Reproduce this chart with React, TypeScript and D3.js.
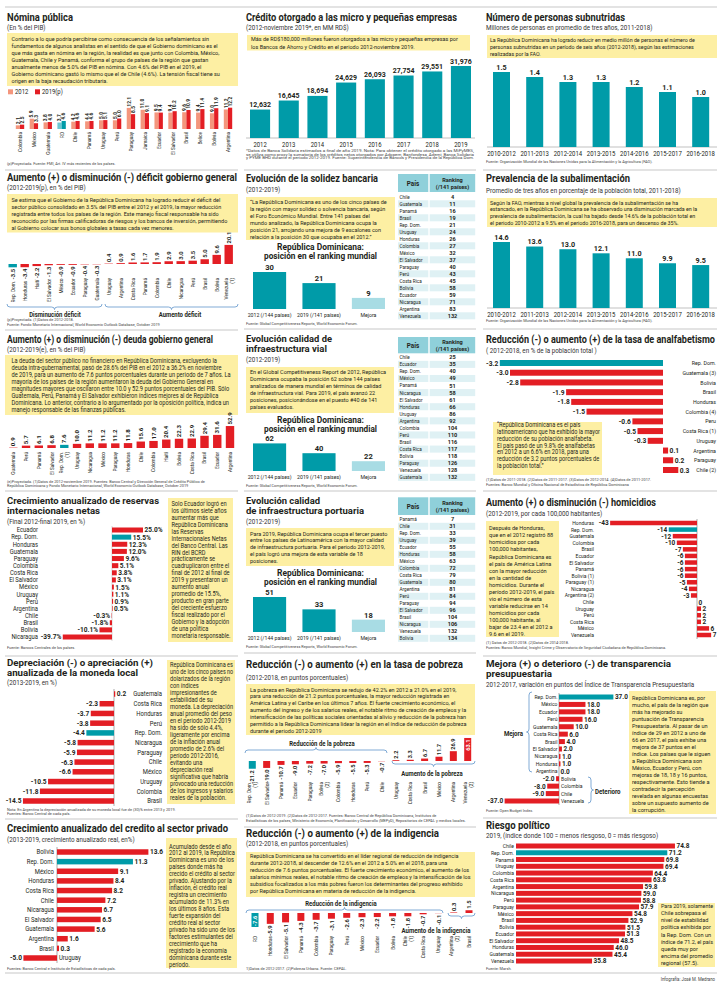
import React from "react";
import * as d3 from "d3";

// ---------------- data ----------------
const nominaCountries = ["Colombia","México","Guatemala","RD","Chile","Panamá","Uruguay","Perú","Paraguay","Jamaica","Ecuador","El Salvador","Brasil","Belice","Bolivia","Argentina"];
const nomina2012 = [2.1,5.9,3.8,3.7,4.2,4.4,5.0,5.0,12.1,11.0,9.5,9.4,9.6,9.4,9.0,11.2];
const nomina2019 = [2.5,3.3,4.0,4.6,4.6,4.6,5.1,6.0,8.5,9.1,9.4,10.2,10.9,11.4,11.9,12.2];

const deficitCountries = ["Rep. Dom.","Honduras","Haití","El Salvador","México","Ecuador","Paraguay","Guatemala","Uruguay","Argentina","Costa Rica","Panamá","Colombia","Chile","Nicaragua","Perú","Brasil","Bolivia","Venezuela\n(1)"];
const deficitValues = [-3.5,-3.4,-2.2,-1.3,-0.9,-0.9,-0.4,-0.3,0.4,0.9,1.6,1.7,1.9,2.9,3.0,3.5,5.0,9.6,20.1];

const deudaCountries = ["Guatemala","Perú","Panamá","El Salvador","Rep. Dom.\n(1)","Uruguay","Nicaragua","México","Paraguay","Honduras","Chile","Colombia","Haití","Bolivia","Costa Rica","Brasil","Ecuador","Argentina"];
const deudaValues = [0.9,5.7,6.1,6.8,7.6,10.0,11.2,11.2,11.2,11.8,15.6,17.0,20.4,22.3,22.9,29.4,31.6,52.9];

const reservasCountries = ["Ecuador","Rep. Dom.","Honduras","Guatemala","Paraguay","Colombia","Costa Rica","El Salvador","México","Uruguay","Perú","Argentina","Chile","Brasil","Bolivia","Nicaragua"];
const reservasValues = [25.0,15.5,12.3,12.0,9.6,5.1,3.8,3.1,1.5,1.1,0.9,0.5,-0.3,-1.8,-10.1,-39.7];

const monedaCountries = ["Guatemala","Costa Rica","Honduras","Perú","Rep. Dom.","Nicaragua","Paraguay","Chile","México","Uruguay","Colombia","Brasil"];
const monedaValues = [0.2,-2.3,-3.7,-3.8,-4.4,-5.8,-5.9,-6.3,-6.6,-10.5,-11.8,-14.5];

const creditoCountries = ["Bolivia","Rep. Dom.","México","Honduras","Costa Rica","Chile","Nicaragua","El Salvador","Guatemala","Argentina","Brasil","Uruguay"];
const creditoValues = [13.6,11.3,9.1,8.4,8.2,7.2,6.7,6.5,5.6,1.6,0.3,-5.0];

const microYears = ["2012","2013","2014","2015","2016","2017","2018","2019"];
const microValues = [12632,16645,18694,24629,26093,27754,29551,31976];

const rankLabels = ["2012 (/144 países)","2019 (/141 países)","Mejora"];
const solidezRank = [30,21,9];
const vialRank = [62,40,22];
const portRank = [51,33,18];

const solidezPaises = ["Chile","Guatemala","Panamá","Brasil","Rep. Dom.","Uruguay","Honduras","Colombia","México","El Salvador","Paraguay","Perú","Costa Rica","Bolivia","Ecuador","Nicaragua","Argentina","Venezuela"];
const solidezRanking = [4,11,16,19,21,24,26,27,32,37,40,43,45,58,59,71,83,132];
const vialPaises = ["Chile","Ecuador","Rep. Dom.","México","Panamá","Nicaragua","El Salvador","Honduras","Uruguay","Argentina","Colombia","Perú","Brasil","Costa Rica","Bolivia","Paraguay","Venezuela","Guatemala"];
const vialRanking = [25,35,40,49,51,58,61,66,86,92,104,110,116,117,118,126,128,132];
const portPaises = ["Panamá","Chile","Rep. Dom.","Uruguay","Ecuador","Honduras","México","Colombia","Costa Rica","Guatemala","Argentina","Perú","Paraguay","El Salvador","Brasil","Nicaragua","Venezuela","Bolivia"];
const portRanking = [7,31,33,39,55,58,63,72,79,80,81,84,94,96,104,106,132,134];

const pobrezaCountries = ["Rep. Dom.\n(1)","El Salvador","Panamá","Ecuador","Paraguay","Bolivia\n(2)","Colombia","Honduras","Perú","Chile","Uruguay","Costa Rica","Brasil","México","Argentina","Venezuela\n(2)"];
const pobrezaValues = [-21.2,-19.0,-10.7,-9.0,-7.2,-7.0,-5.9,-5.5,-5.3,-0.7,2.2,3.3,6.7,11.7,26.9,63.1];

const indigCountries = ["RD","Honduras","El Salvador","Panamá","Colombia","Paraguay","Perú","México","Ecuador","Bolivia","Chile\n(1)","Costa Rica","Uruguay","Argentina\n(2)","Brasil"];
const indigValues = [-7.6,-5.9,-5.1,-4.3,-3.7,-3.1,-2.6,-2.3,-2.2,-1.8,-1.8,-0.7,-0.1,0.3,1.5];

const periods = ["2010-2012","2011-2013","2012-2014","2013-2015","2014-2016","2015-2017","2016-2018"];
const subnutValues = [1.5,1.4,1.3,1.3,1.2,1.1,1.0];
const prevalValues = [14.6,13.6,13.0,12.1,11.0,9.9,9.5];

const analfCountries = ["Rep. Dom.","Guatemala (3)","Bolivia","Brasil","Honduras","Colombia (4)","Peru","Costa Rica (1)","Uruguay","Argentina","Paraguay","Chile (2)"];
const analfValues = [-3.2,-3.0,-2.8,-1.9,-1.8,-1.5,-0.6,-0.5,-0.3,0.1,0.2,0.3];

const homCountries = ["Honduras","Rep. Dom.","Guatemala","Colombia","Brasil","Ecuador","El Salvador","Panamá","Bolivia (1)","Paraguay (1)","Nicaragua","Argentina (2)","Chile","Uruguay","Perú","Costa Rica","México","Venezuela"];
const homValues = [-43,-14,-12,-10,-7,-6,-6,-6,-6,-5,-4,-3,0,2,2,2,6,7];

const transCountries = ["Rep. Dom.","México","Ecuador","Perú","Guatemala","Costa Rica","Brasil","El Salvador","Nicaragua","Honduras","Argentina","Bolivia","Colombia","Chile","Venezuela"];
const transValues = [37.0,18.0,18.0,16.0,10.0,6.0,4.0,2.0,1.0,1.0,0.0,-2.0,-8.0,-9.0,-37.0];

const riesgoCountries = ["Chile","Rep. Dom.","Panamá","Uruguay","Colombia","Costa Rica","Argentina","Nicaragua","Perú","Paraguay","México","Brasil","Bolivia","Ecuador","El Salvador","Honduras","Guatemala","Venezuela"];
const riesgoValues = [74.8,71.2,69.8,69.4,64.4,63.8,59.8,59.0,58.8,57.9,54.8,52.9,51.5,51.3,48.5,46.0,45.4,35.8];

// ---------------- texts ----------------
const nominaText = ["Contrario a lo que podría percibirse como consecuencia de los señalamientos sin","fundamentos de algunos analistas en el sentido de que el Gobierno dominicano es el","que más gasta en nómina en la región, la realidad es que junto con Colombia, México,","Guatemala, Chile y Panamá, conforma el grupo de países de la región que gastan","anualmente menos de 5.0% del PIB en nómina. Con 4.6% del PIB en el 2019, el","Gobierno dominicano gastó lo mismo que el de Chile (4.6%). La tensión fiscal tiene su","origen en la baja recaudación tributaria."];
const deficitText = ["Se estima que el Gobierno de la República Dominicana ha logrado reducir el déficit del","sector público consolidado en 3.5% del PIB entre el 2012 y el 2019, la mayor reducción","registrada entre todos los países de la región. Este manejo fiscal responsable ha sido","reconocido por las firmas calificadoras de riesgos y los bancos de inversión, permitiendo","al Gobierno colocar sus bonos globales a tasas cada vez menores."];
const deudaText = ["La deuda del sector público no financiero en República Dominicana, excluyendo la","deuda intra-gubernamental, pasó de 28.6% del PIB en el 2012 a 36.2% en noviembre","de 2019, para un aumento de 7.6 puntos porcentuales durante un periodo de 7 años. La","mayoría de los países de la región aumentaron la deuda del Gobierno General en","magnitudes mayores que oscilaron entre 10.0 y 52.9 puntos porcentuales del PIB. Sólo","Guatemala, Perú, Panamá y El Salvador exhibieron índices mejores al de República","Dominicana. Lo anterior, contrario a lo argumentado por la oposición política, indica un","manejo responsable de las finanzas públicas."];
const reservasText = ["Solo Ecuador logró en","los últimos siete años","aumentar más que","República Dominicana","las Reservas","Internacionales Netas","del Banco Central. Las","RIN del BCRD","prácticamente se","cuadruplicaron entre el","final de 2012 al final de","2019 y presentaron un","aumento anual","promedio de 15.5%,","producto en gran parte","del creciente esfuerzo","fiscal realizado por el","Gobierno y la adopción","de una política","monetaria responsable."];
const monedaText = ["República Dominicana es","uno de los cinco países no","dolarizados de la región","con índices","impresionantes de","estabilidad de su","moneda. La depreciación","anual promedio del peso","en el periodo 2012-2019","ha sido de sólo 4.4%,","ligeramente por encima","de la inflación anual","promedio de 2.6% del","período 2012-2016,","evitando una","depreciación real","significativa que habría","provocado una reducción","de los ingresos y salarios","reales de la población."];
const creditoText = ["Acumulado desde el año","2012 al 2019, la República","Dominicana es uno de los","países donde más ha","crecido el crédito al sector","privado. Ajustando por la","inflación, el crédito real","registra un crecimiento","acumulado de 11.3% en","los últimos 8 años. Esta","fuerte expansión del","crédito real al sector","privado ha sido uno de los","factores estimulantes del","crecimiento que ha","registrado la economía","dominicana durante este","período."];
const microText = ["Más de RD$180,000 millones fueron otorgados a las micro y pequeñas empresas por","los Bancos de Ahorro y Crédito en el periodo 2012-noviembre 2019."];
const solidezText = ["“La República Dominicana es uno de los cinco países de","la región con mayor solidez o solvencia bancaria, según","el Foro Económico Mundial.  Entre 141 países del","mundo analizado, la República Dominicana ocupa la","posición 21, arrojando una mejora de 9 escalones con","relación a la posición 30 que ocupaba en el 2012.”"];
const vialText = ["En el Global Competitiveness Report de 2012, República","Dominicana ocupaba la posición 62 sobre 144 países","analizados de manera mundial en términos de calidad","de infraestructura vial. Para 2019, el país avanzó 22","posiciones, posicionándose en el puesto #40 de 141","países evaluados."];
const portText = ["Para 2019, República Dominicana ocupa el tercer puesto","entre los países de Latinoamérica con la mayor calidad","de infraestructura portuaria. Para el periodo 2012-2019,","el país logró una mejora de esta variable de 18","posiciones."];
const pobrezaText = ["La pobreza en República Dominicana se redujo de 42.2% en 2012 a 21.0% en el 2019,","para una reducción de 21.2 puntos porcentuales, la mayor reducción registrada en","América Latina y el Caribe en los últimos 7 años. El fuerte crecimiento económico, el","aumento del ingreso y de los salarios reales, el notable ritmo de creación de empleos y la","intensificación de las políticas sociales orientadas al alivio y reducción de la pobreza han","permitido a la República Dominicana lidear la región en el índice de reducción de pobreza","durante el periodo 2012-2019"];
const indigText = ["República Dominicana se ha convertido en el líder regional de reducción de indigencia","durante 2012-2018, al descender de 12.6% en el 2012 a 5.0% en el 2018, para una","reducción de 7.6 puntos porcentuales. El fuerte crecimiento económico, el aumento de los","salarios mínimos reales, el notable ritmo de creación de empleos y la intensificación de los","subsidios focalizados a los más pobres fueron los determinantes del progreso exhibido","por  República Dominicana en materia de reducción de la indigencia."];
const subnutText = ["La República Dominicana ha logrado reducir en medio millón de personas el número de","personas subnutridas en un período de seis años (2012-2018), según las estimaciones","realizadas por la FAO."];
const prevalText = ["Según la FAO,  mientras a nivel global la prevalencia de la subalimentación se ha","estancado, en la República Dominicana se ha observado una disminución marcada en la","prevalencia de subalimentación, la cual ha bajado  desde 14.6% de la población total en","el periodo 2010-2012 a 9.5% en el periodo 2016-2018, para un descenso de 35%."];
const analfText = ["“República Dominicana es el país","latinoamericano que ha exhibido la mayor","reducción de su población analfabeta.","El país pasó de un 9.8% de analfabetas","en 2012 a un 6.6% en 2018, para una","reducción de 3.2 puntos porcentuales de","la población total.”"];
const homText = ["Después de Honduras,","que en el 2012 registró 88","homicidios por cada","100,000 habitantes,","República Dominicana es","el país de América Latina","con la mayor reducción","en la cantidad de","homicidios. Durante el","período 2012-2019, el país","vio el número de esta","variable reducirse en 14","homicidios por cada","100,000 habitante, al","bajar de 23.4 en el 2012 a","9.6 en el 2019."];
const transText = ["República Dominicana es, por","mucho, el país de la región que","más ha mejorado su","puntuación de Transparencia","Presupuestaria. Al pasar de un","índice de 29 en 2012 a uno de","66 en 2017, el país exhibe una","mejora de 37 puntos en el","índice. Los países que le siguen","a República Dominicana son","México, Ecuador y Perú, con","mejoras de 18, 18 y 16 puntos,","respectivamente.  Esto tiende a","contradecir la percepción","revelada en algunas encuestas","sobre un supuesto aumento de","la corrupción."];
const riesgoText = ["Para 2019, solamente","Chile sobrepasa el","nivel de estabilidad","política exhibida por","la Rep. Dom. Con un","índice de 71.2, el país","queda muy por","encima del promedio","regional (57.5)."];

// ---------------- style ----------------
const INK = "#231f20";
const RED = "#e31e24";
const SALMON = "#f4967d";
const TEAL = "#009ba8";
const TEAL_L = "#6ec8d2";
const TEAL_M = "#a8dce4";
const YEL = "#fdefa3";
const GRID = "#b9b9b9";
const BRACE = "#4a86c4";
const HEAD = "#8fd0da";
const ALT = "#dff1f4";
const SX = 0.9;

let _ctx: CanvasRenderingContext2D | null = null;
function mw(s: string, z: number, w = 400) {
  if (!_ctx) _ctx = document.createElement("canvas").getContext("2d");
  _ctx!.font = `${w} ${z}px Roboto`;
  return _ctx!.measureText(s).width;
}
const isRD = (c: string) => c.startsWith("Rep. Dom") || c === "RD";

type TP = { x: number; y: number; s: string; z?: number; b?: boolean; a?: "start" | "middle" | "end"; f?: string; w?: number; max?: number; r?: boolean; sx?: number };
function T({ x, y, s, z = 6, b = false, a = "start", f = INK, w, max, r = false, sx = SX }: TP) {
  let len = w ?? mw(s, z, b ? 700 : 400) * sx;
  if (max !== undefined && len > max) len = max;
  return (
    <text x={r ? 0 : x} y={r ? 0 : y} transform={r ? `translate(${x},${y}) rotate(-90)` : undefined}
      fontSize={z} fontWeight={b ? 700 : 400} textAnchor={a} fill={f} textLength={len} lengthAdjust="spacingAndGlyphs">{s}</text>
  );
}
function Para({ x, y, lines, lh, z = 6.1, max }: { x: number; y: number; lines: string[]; lh: number; z?: number; max: number }) {
  return <g>{lines.map((l, i) => <T key={i} x={x} y={y + i * lh} s={l} z={z} max={max} />)}</g>;
}
function Box({ x, y, w, h }: { x: number; y: number; w: number; h: number }) {
  return <rect x={x} y={y} width={w} height={h} fill={YEL} />;
}
function Title({ x, y, s, w, z = 10.3 }: { x: number; y: number; s: string; w: number; z?: number }) {
  return <T x={x} y={y} s={s} z={z} b w={w} />;
}
function Sub({ x, y, s }: { x: number; y: number; s: string }) {
  return <T x={x} y={y} s={s} z={6.8} f="#333" sx={0.92} />;
}
function Note({ x, y, s, max = 229, w }: { x: number; y: number; s: string; max?: number; w?: number }) {
  return <T x={x} y={y} s={s} z={4.3} f="#444" max={max} w={w} />;
}
function hBrace(x1: number, x2: number, y: number, d: number) {
  const m = (x1 + x2) / 2;
  return `M${x1},${y + d * 3}Q${x1},${y} ${x1 + 3},${y}L${m - 3},${y}Q${m},${y} ${m},${y - d * 2.5}Q${m},${y} ${m + 3},${y}L${x2 - 3},${y}Q${x2},${y} ${x2},${y + d * 3}`;
}
function vBrace(x: number, y1: number, y2: number, d: number) {
  const m = (y1 + y2) / 2;
  return `M${x + d * 3},${y1}Q${x},${y1} ${x},${y1 + 3}L${x},${m - 3}Q${x},${m} ${x - d * 2.5},${m}Q${x},${m} ${x},${m + 3}L${x},${y2 - 3}Q${x},${y2} ${x + d * 3},${y2}`;
}
function Brace({ d }: { d: string }) {
  return <path d={d} fill="none" stroke={BRACE} strokeWidth={0.7} />;
}

// vertical bars with rotated labels
type VB = { names: string[]; values: number[]; x: [number, number]; base: number; k: number; w: number; yLab: number; vz: number; lz: number; combineNeg?: boolean; inside?: string[] };
function VBars({ names, values, x, base, k, w, yLab, vz, lz, combineNeg = false, inside = [] }: VB) {
  const xs = d3.scalePoint<string>().domain(names).range(x);
  const ys = d3.scaleLinear().domain([0, 1]).range([base, base - k]);
  return (
    <g>
      {names.map((c, i) => {
        const v = values[i], cx = xs(c)!, y1 = ys(v), y0 = ys(0);
        const vs = v.toFixed(1);
        const tx = cx + vz * 0.36;
        const parts = c.split("\n");
        let valEl;
        if (inside.includes(c)) valEl = v > 0
          ? <T r x={tx} y={y1 + 1.5} s={vs} z={vz} b a="end" f="#fff" sx={1} />
          : <T r x={tx} y={y1 - 0.8} s={vs} z={vz} b a="start" f="#fff" sx={1} max={Math.abs(y1 - y0) - 1} />;
        else if (v >= 0) valEl = <T r x={tx} y={y1 - 1.5} s={vs} z={vz} b sx={1} />;
        else valEl = <T r x={tx} y={y1 + 1.5} s={vs} z={vz} b a="end" sx={1} />;
        const labEl = combineNeg && v < 0
          ? <T r x={cx + lz * 0.36} y={y1 + 3 + mw(vs, vz, 700)} s={c} z={lz} a="end" sx={0.85} />
          : <g>{parts.map((p, j) => <T key={j} r x={cx + lz * 0.36 + (j - (parts.length - 1) / 2) * lz * 1.05} y={yLab} s={p} z={lz} a="end" sx={0.85} />)}</g>;
        return (
          <g key={c}>
            <rect x={cx - w / 2} y={Math.min(y0, y1)} width={w} height={Math.abs(y1 - y0)} fill={isRD(c) ? TEAL : RED} />
            {valEl}{labEl}
          </g>
        );
      })}
    </g>
  );
}

// horizontal bars
type HB = { names: string[]; values: number[]; y: [number, number]; zero: number; k: number; h: number; lab: (v: number) => [number, "start" | "end"]; fmt: (v: number) => string; lz: number; vz: number; lsx?: number };
function HBars({ names, values, y, zero, k, h, lab, fmt, lz, vz, lsx = SX }: HB) {
  const ys = d3.scalePoint<string>().domain(names).range(y);
  const xs = d3.scaleLinear().domain([0, 1]).range([zero, zero + k]);
  return (
    <g>
      {names.map((c, i) => {
        const v = values[i], cy = ys(c)!, x0 = xs(0), x1 = xs(v);
        const [lx, la] = lab(v);
        return (
          <g key={c}>
            <rect x={Math.min(x0, x1)} y={cy - h / 2} width={Math.abs(x1 - x0)} height={h} fill={isRD(c) ? TEAL : RED} />
            <T x={lx} y={cy + lz * 0.36} s={c} z={lz} a={la} sx={lsx} />
            <T x={v < 0 ? x1 - 1.5 : x1 + 1.5} y={cy + vz * 0.36} s={fmt(v)} z={vz} b a={v < 0 ? "end" : "start"} sx={0.95} />
          </g>
        );
      })}
    </g>
  );
}

function Table({ hy, hh, rows, ranks, r0, step }: { hy: number; hh: number; rows: string[]; ranks: number[]; r0: number; step: number }) {
  const ys = d3.scalePoint<string>().domain(rows).range([r0, r0 + (rows.length - 1) * step]);
  return (
    <g>
      <rect x={398} y={hy} width={30.3} height={hh} fill={HEAD} />
      <rect x={429.7} y={hy} width={45.5} height={hh} fill={HEAD} />
      <T x={413} y={hy + hh / 2 + 2.6} s="País" z={7} b a="middle" />
      <T x={452.5} y={hy + hh / 2 - 1.2} s="Ranking" z={6.2} b a="middle" />
      <T x={452.5} y={hy + hh / 2 + 5.6} s="(/141 países)" z={6.2} b a="middle" />
      {rows.map((c, i) => {
        const cy = ys(c)!;
        return (
          <g key={c}>
            {i % 2 === 1 && <><rect x={398} y={cy - step / 2} width={30.3} height={step} fill={ALT} /><rect x={429.7} y={cy - step / 2} width={45.5} height={step} fill={ALT} /></>}
            <T x={399.5} y={cy + 1.9} s={c} z={5.3} sx={0.88} />
            <T x={452.5} y={cy + 2} s={String(ranks[i])} z={5.6} b a="middle" sx={1} />
          </g>
        );
      })}
    </g>
  );
}

function RankChart({ vals, base, top, ty }: { vals: number[]; base: number; top: number; ty: number }) {
  const xs = d3.scaleBand<string>().domain(rankLabels).range([253, 385]).paddingInner(0.33);
  const ys = d3.scaleLinear().domain([0, vals[0]]).range([base, top]);
  return (
    <g>
      <T x={320.5} y={ty} s="República Dominicana:" z={8.2} b a="middle" w={87} />
      <T x={320.5} y={ty + 9.2} s="posición en el ranking mundial" z={8.2} b a="middle" w={113} />
      {rankLabels.map((l, i) => {
        const x = xs(l)!, bw = xs.bandwidth(), v = vals[i];
        return (
          <g key={l}>
            <rect x={x} y={ys(v)} width={bw} height={base - ys(v)} fill={i === 2 ? TEAL_M : TEAL} />
            <T x={x + bw / 2} y={ys(v) - 2} s={String(v)} z={7.6} b a="middle" sx={1} />
            <T x={x + bw / 2} y={base + 7.8} s={l} z={5.9} a="middle" sx={0.88} />
          </g>
        );
      })}
    </g>
  );
}

function PeriodChart({ vals, base, k, fmt }: { vals: number[]; base: number; k: number; fmt: (v: number) => string }) {
  const xs = d3.scaleBand<string>().domain(periods).range([486.7, 715.5]).paddingInner(0.488).paddingOuter(0.19);
  const ys = d3.scaleLinear().domain([0, 1]).range([base, base - k]);
  return (
    <g>
      <line x1={487} x2={717} y1={base} y2={base} stroke="#999" strokeWidth={0.6} />
      {periods.map((p, i) => {
        const x = xs(p)!, bw = xs.bandwidth();
        return (
          <g key={p}>
            <rect x={x} y={ys(vals[i])} width={bw} height={base - ys(vals[i])} fill={TEAL} />
            <T x={x + bw / 2} y={ys(vals[i]) - 2.3} s={fmt(vals[i])} z={7.2} b a="middle" sx={1} />
            <T x={x + bw / 2} y={base + 8.6} s={p} z={6.8} a="middle" sx={0.88} />
          </g>
        );
      })}
    </g>
  );
}

export default function App() {
  const nomX = d3.scalePoint<string>().domain(nominaCountries).range([20, 228]);
  const nomY = d3.scaleLinear().domain([0, 12.2]).range([129, 107.7]);
  const micX = d3.scaleBand<string>().domain(microYears).range([245.7, 475.3]).paddingInner(0.3).paddingOuter(0.15);
  const micY = d3.scaleLinear().domain([0, 31976]).range([138, 66]);

  const divs: [number, number, number][] = [
    [5, 238, 170], [5, 238, 330], [5, 238, 491], [5, 238, 656], [5, 238, 819],
    [244, 476, 170], [244, 476, 329], [244, 476, 491], [244, 476, 653], [244, 476, 827],
    [483, 717, 170], [483, 717, 329], [483, 717, 491], [483, 717, 656], [483, 717, 818],
    [5, 717, 7], [5, 717, 973],
  ];

  return (
    <svg width={720} height={984} viewBox="0 0 720 984" style={{ position: "absolute", left: 0, top: 0, background: "#fff" }} fontFamily="Roboto, 'Noto Sans', sans-serif">
      <rect width={720} height={984} fill="#fff" />
      {divs.map(([a, b, y], i) => <line key={i} x1={a} x2={b} y1={y} y2={y} stroke={GRID} strokeWidth={0.8} />)}

      {/* ===== 1 Nómina pública ===== */}
      <Title x={7} y={20.6} s="Nómina pública" w={66} />
      <Sub x={7} y={29.8} s="(En % del PIB)" />
      <Box x={7} y={33} w={231} h={53} />
      <Para x={11.5} y={41} lines={nominaText} lh={7.05} max={224} />
      <rect x={8} y={89.3} width={5} height={5} fill={SALMON} />
      <T x={15} y={94.2} s="2012" z={6.6} />
      <rect x={35} y={89.3} width={5} height={5} fill={RED} />
      <T x={42} y={94.2} s="2019(p)" z={6.6} />
      {nominaCountries.map((c, i) => {
        const cx = nomX(c)!, rd = c === "RD";
        const bars: [number, number, string][] = [[nomina2012[i], cx - 4.2, rd ? TEAL_L : SALMON], [nomina2019[i], cx, rd ? TEAL : RED]];
        return (
          <g key={c}>
            {bars.map(([v, bx, col], j) => (
              <g key={j}>
                <rect x={bx} y={nomY(v)} width={4.2} height={nomY(0) - nomY(v)} fill={col} />
                <T r x={bx + 2.1 + 1.7} y={nomY(v) - 1.2} s={v.toFixed(1)} z={4.9} b sx={1} />
              </g>
            ))}
            <T r x={cx + 2} y={132} s={c} z={5.5} a="end" sx={0.85} />
          </g>
        );
      })}
      <Note x={7} y={165} s="(p)Proyectada. Fuente: FMI, Art. IV más recientes de los países." />

      {/* ===== 2 Déficit ===== */}
      <Title x={7} y={180.6} s="Aumento (+) o disminución (-) déficit gobierno general" w={230} />
      <Sub x={7} y={190.3} s="(2012-2019(p), en % del PIB)" />
      <Box x={7} y={194} w={231} h={38.5} />
      <Para x={11.5} y={201.5} lines={deficitText} lh={7.1} max={224} />
      <VBars names={deficitCountries} values={deficitValues} x={[12.7, 228.7]} base={264} k={0.95} w={8.4} yLab={278} vz={5.8} lz={5.5} combineNeg />
      <Brace d={hBrace(7, 102, 307, -1)} />
      <Brace d={hBrace(105, 238, 307, -1)} />
      <T x={55} y={316.5} s="Disminución déficit" z={6.6} b a="middle" />
      <T x={180} y={316.5} s="Aumento déficit" z={6.6} b a="middle" />
      <Note x={7} y={321.3} s="(p)Proyectada. (1)Datos de 2012-2018." />
      <Note x={7} y={325.8} s="Fuente: Fondo Monetario Internacional, World Economic Outlook Database, October 2019" />

      {/* ===== 3 Deuda ===== */}
      <Title x={7} y={342.8} s="Aumento (+) o disminución (-) deuda gobierno general" w={206} />
      <Sub x={7} y={351.8} s="(2012-2019(e), en % del PIB)" />
      <Box x={5} y={355} w={233} h={60} />
      <Para x={11.5} y={362.7} lines={deudaText} lh={7.08} z={6.3} max={224} />
      <VBars names={deudaCountries} values={deudaValues} x={[13.3, 230]} base={448} k={0.415} w={8.4} yLab={452} vz={6.1} lz={5.5} />
      <Note x={7} y={482.8} s="(e)Proyectada. (1)Datos de 2012-noviembre 2019. Fuentes: Banco Central y Dirección General de Crédito Público de" />
      <Note x={7} y={487} s="República Dominicana y Fondo Monetario Internacional, World Economic Outlook Database, October 2019" />

      {/* ===== 4 Reservas ===== */}
      <Title x={7} y={504.2} s="Crecimiento anualizado de reservas" w={152} z={9.2} />
      <Title x={7} y={514.2} s="internacionales netas" w={93} z={9.2} />
      <Sub x={7} y={523.8} s="(Final 2012-final 2019, en %)" />
      <line x1={112} x2={112} y1={526} y2={641} stroke="#999" strokeWidth={0.4} />
      <HBars names={reservasCountries} values={reservasValues} y={[530, 637]} zero={112} k={1.24} h={5} lab={() => [38, "end"]} fmt={(v) => v.toFixed(1) + "%"} lz={6.5} vz={6.9} />
      <Box x={168} y={498} w={65} h={144} />
      <Para x={171.5} y={506} lines={reservasText} lh={6.93} z={6.3} max={59} />
      <Note x={7} y={648.6} s="Fuente: Bancos Centrales de los países." />

      {/* ===== 5 Moneda ===== */}
      <Title x={7} y={666.2} s="Depreciación (-) o apreciación (+)" w={146} z={9.2} />
      <Title x={7} y={675.8} s="anualizada de la moneda local" w={131} z={9.2} />
      <Sub x={7} y={685.2} s="(2013-2019, en %)" />
      <line x1={114} x2={114} y1={689} y2={806} stroke="#555" strokeWidth={0.5} />
      <HBars names={monedaCountries} values={monedaValues} y={[694, 801]} zero={114} k={6.28} h={5.5} lab={() => [162, "end"]} fmt={(v) => v.toFixed(1)} lz={6.6} vz={6.9} />
      <Box x={167} y={660} w={68} h={144} />
      <Para x={170} y={667} lines={monedaText} lh={7.0} z={6.3} max={63} />
      <Note x={7} y={810.8} s="Nota: En Argentina la depreciación anualizada de su moneda local fue de (30)% entre 2013 y 2019." />
      <Note x={7} y={815.3} s="Fuentes: Banco Central de cada país." />

      {/* ===== 6 Crédito privado ===== */}
      <Title x={7} y={831.8} s="Crecimiento anualizado del credito al sector privado" w={221} />
      <Sub x={7} y={841.5} s="(2013-2019, crecimiento anualizado real, en%)" />
      <line x1={57} x2={57} y1={847} y2={963} stroke="#555" strokeWidth={0.5} />
      <HBars names={creditoCountries} values={creditoValues} y={[852, 958]} zero={57} k={6.72} h={5.5} lab={(v) => (v < 0 ? [59, "start"] : [54, "end"])} fmt={(v) => v.toFixed(1)} lz={6.6} vz={6.9} />
      <Box x={166} y={838} w={71} h={130} />
      <Para x={169} y={848.5} lines={creditoText} lh={6.98} z={6.3} max={66} />
      <Note x={7} y={969.8} s="Fuentes: Banco Central e Instituto de Estadísticas de cada país." />

      {/* ===== 7 Micro ===== */}
      <Title x={246} y={20.6} s="Crédito otorgado a las micro y pequeñas empresas" w={211} />
      <Sub x={246} y={29.8} s="(2012-noviembre 2019*, en MM RD$)" />
      <Box x={247} y={35} w={223} h={15.5} />
      <Para x={251} y={41} lines={microText} lh={7.5} max={216} />
      <line x1={246} x2={475} y1={138} y2={138} stroke="#999" strokeWidth={0.6} />
      {microYears.map((yr, i) => {
        const x = micX(yr)!, bw = micX.bandwidth(), v = microValues[i];
        return (
          <g key={yr}>
            <rect x={x} y={micY(v)} width={bw} height={micY(0) - micY(v)} fill={TEAL} />
            <T x={x + bw / 2} y={micY(v) - 2.5} s={d3.format(",")(v)} z={7.6} b a="middle" sx={0.92} />
            <T x={x + bw / 2} y={146.5} s={yr} z={6.6} a="middle" />
          </g>
        );
      })}
      <Note x={246} y={151.6} s="*Datos de Banca Solidaria estimados a final de año 2019. Nota: Para obtener el crédito otorgado a las MiPyMES," w={228} />
      <Note x={246} y={155.5} s="se utiliza como proxy la sumatoria de los créditos netos otorgados por Adopem, Banfondesa, Ademi, Banca Solidaria" w={228} />
      <Note x={246} y={159.4} s="y PYME BHD durante el periodo 2012-2019.  Fuente: Superintendencia de Bancos y Presidencia de la República Dom." w={228} />

      {/* ===== 8 Solidez ===== */}
      <Title x={246} y={181.8} s="Evolución de la solidez bancaria" w={132} />
      <Sub x={246} y={191.6} s="(2012-2019)" />
      <Box x={246} y={197} w={149} h={43} />
      <Para x={250} y={203.7} lines={solidezText} lh={7.1} max={142} />
      <RankChart vals={solidezRank} base={309} top={272} ty={250} />
      <Note x={246} y={324.6} s="Fuente: Global Competitiveness Reports, World Economic Forum." />
      <Table hy={174} hh={18} rows={solidezPaises} ranks={solidezRanking} r0={196.8} step={7.0} />

      {/* ===== 9 Vial ===== */}
      <Title x={246} y={342.4} s="Evolución calidad de" w={86} z={9} />
      <Title x={246} y={352.4} s="infraestructura vial" w={81} z={9} />
      <Sub x={246} y={361.6} s="(2012-2019)" />
      <Box x={246} y={367} w={148} h={46} />
      <Para x={250} y={373.8} lines={vialText} lh={7.05} max={141} />
      <RankChart vals={vialRank} base={471} top={443.4} ty={422.5} />
      <Note x={246} y={486.6} s="Fuente: Global Competitiveness Reports, World Economic Forum." />
      <Table hy={337} hh={16.3} rows={vialPaises} ranks={vialRanking} r0={357.3} step={7.06} />

      {/* ===== 10 Portuaria ===== */}
      <Title x={246} y={504.2} s="Evolución calidad" w={74} z={9.2} />
      <Title x={246} y={514.2} s="de infraestructura portuaria" w={118} z={9.2} />
      <Sub x={246} y={523.8} s="(2012-2019)" />
      <Box x={246} y={528} w={148} h={38} />
      <Para x={250} y={535.5} lines={portText} lh={6.8} max={141} />
      <RankChart vals={portRank} base={632} top={597} ty={576} />
      <Note x={246} y={648} s="Fuente: Global Competitiveness Reports, World Economic Forum." />
      <Table hy={497.3} hh={17.7} rows={portPaises} ranks={portRanking} r0={519.3} step={7.0} />

      {/* ===== 11 Pobreza ===== */}
      <Title x={246} y={668.3} s="Reducción (-) o aumento (+) en la tasa de pobreza" w={217} />
      <Sub x={246} y={679.5} s="(2012-2018, en puntos porcentuales)" />
      <Box x={246} y={684} w={229} h={51} />
      <Para x={250} y={691.5} lines={pobrezaText} lh={6.85} max={222} />
      <T x={322} y={745.6} s="Reducción de la pobreza" z={6.6} b a="middle" />
      <Brace d={hBrace(245, 387, 750, 1)} />
      <VBars names={pobrezaCountries} values={pobrezaValues} x={[252.3, 467.7]} base={761} k={0.365} w={7} yLab={782} vz={5.6} lz={5.5} inside={["Venezuela\n(2)"]} />
      <Brace d={hBrace(392, 475, 764, -1)} />
      <T x={432} y={775.6} s="Aumento de la pobreza" z={6.6} b a="middle" />
      <Note x={246} y={817.3} s="(1)Datos de 2012-2019. (2)Datos de 2012-2017. Fuentes: Banco Central de República Dominicana, Institutos de" />
      <Note x={246} y={821.5} s="Estadísticas de los países, Ministerio de Economía, Planificación y Desarrollo (MEPyD), Repositorios de CEPAL y medios locales." />

      {/* ===== 12 Indigencia ===== */}
      <Title x={246} y={837.3} s="Reducción (-) o aumento (+) de la indigencia" w={193} />
      <Sub x={246} y={846} s="(2012-2018, en puntos porcentuales)" />
      <Box x={246} y={852} w={229} h={45} />
      <Para x={250} y={858} lines={indigText} lh={6.9} max={222} />
      <T x={341} y={905.6} s="Reducción de la indigencia" z={6.6} b a="middle" />
      <Brace d={hBrace(246, 443, 910, 1)} />
      <VBars names={indigCountries} values={indigValues} x={[255, 469]} base={913} k={1.84} w={7} yLab={936} vz={5.8} lz={5.5} inside={["RD"]} />
      <Brace d={hBrace(448, 475, 916, -1)} />
      <T x={436} y={932.6} s="Aumento de la  indigencia" z={6.6} b a="middle" />
      <Note x={246} y={969.8} s="1)Datos de 2012-2017. (2)Pobreza Urbana. Fuente: CEPAL." />

      {/* ===== 13 Subnutridas ===== */}
      <Title x={486} y={20.6} s="Número de personas subnutridas" w={139} />
      <Sub x={486} y={29.8} s="Millones de personas en promedio de tres años, 2011-2018)" />
      <Box x={487} y={35} w={230} h={23} />
      <Para x={490} y={42} lines={subnutText} lh={7} z={5.9} max={220} />
      <PeriodChart vals={subnutValues} base={147} k={50} fmt={(v) => v.toFixed(1)} />
      <Note x={486} y={162.8} s="Fuente: Organización Mundial de las Naciones Unidas para la Alimentación y la Agricultura (FAO)." />

      {/* ===== 14 Prevalencia ===== */}
      <Title x={486} y={182.3} s="Prevalencia de la subalimentación" w={144} />
      <Sub x={486} y={192.6} s="Promedio de tres años en porcentaje de la población total, 2011-2018)" />
      <Box x={487} y={198} w={230} h={29} />
      <Para x={490} y={204.5} lines={prevalText} lh={6.8} z={5.9} max={220} />
      <PeriodChart vals={prevalValues} base={308} k={4.52} fmt={(v) => v.toFixed(1)} />
      <Note x={486} y={322.4} s="Fuente: Organización Mundial de las Naciones Unidas para la Alimentación y la Agricultura (FAO)." />

      {/* ===== 15 Analfabetismo ===== */}
      <Title x={486} y={343.3} s="Reducción (-) o aumento (+) de la tasa de analfabetismo" w={229} />
      <Sub x={486} y={352.6} s="( 2012-2018, en % de la población total )" />
      <HBars names={analfCountries} values={analfValues} y={[363, 470]} zero={663} k={51} h={6} lab={() => [716, "end"]} fmt={(v) => v.toFixed(1)} lz={5.9} vz={7} />
      <Box x={493} y={422} w={109} h={53} />
      <Para x={497} y={427.2} lines={analfText} lh={6.8} z={6.3} max={103} />
      <Note x={486} y={481} s="(1)Datos de 2011-2018. (2)Datos de 2011-2017. (3)Datos de 2012-2014. (4)Datos de 2011-2017." />
      <Note x={486} y={485.8} s="Fuentes: Banco Mundial y Oficina Nacional de Estadística de República Dominicana" />

      {/* ===== 16 Homicidios ===== */}
      <Title x={486} y={506} s="Aumento (+) o disminución (-) homicidios" w={170} />
      <Sub x={486} y={515.8} s="(2012-2019, por cada 100,000 habitantes)" />
      <Box x={486} y={521} w={73} h={116} />
      <Para x={489} y={530.3} lines={homText} lh={7.05} z={6.2} max={68} />
      <line x1={697} x2={697} y1={519} y2={639} stroke="#555" strokeWidth={0.5} />
      <HBars names={homCountries} values={homValues} y={[523, 635]} zero={697} k={2.02} h={4.5} lab={() => [594, "end"]} fmt={(v) => String(v)} lz={5.6} vz={6.8} />
      <Note x={486} y={643.8} s="(1) Datos de 2012-2018. (2)Datos de 2014-2018." />
      <Note x={486} y={648.5} s="Fuentes: Banco Mundial, Insight Crime y Observatorio de Seguridad Ciudadana de República Dominicana." />

      {/* ===== 17 Transparencia ===== */}
      <Title x={486} y={667.3} s="Mejora (+) o deterioro (-) de transparencia" w={185} z={9.2} />
      <Title x={486} y={676.6} s="presupuestaria" w={66} z={9.2} />
      <Sub x={486} y={686.5} s="2012-2017, variación en puntos del Índice de Transparencia Presupuestaria" />
      <line x1={559} x2={559} y1={693} y2={805} stroke="#555" strokeWidth={0.5} />
      <HBars names={transCountries} values={transValues} y={[697, 801]} zero={559} k={1.47} h={5} lab={(v) => (v < 0 ? [561, "start"] : [557.5, "end"])} fmt={(v) => v.toFixed(1)} lz={5.6} vz={6.8} />
      <Brace d={vBrace(529, 692, 772, 1)} />
      <T x={523} y={735.6} s="Mejora" z={6.8} b a="end" />
      <Brace d={vBrace(591, 777, 803, -1)} />
      <T x={595} y={793.5} s="Deterioro" z={6.8} b />
      <Box x={629} y={691} w={87} h={123} />
      <Para x={632} y={700.3} lines={transText} lh={6.98} z={6.2} max={82} />
      <Note x={486} y={812} s="Fuente: Open Budget Index." />

      {/* ===== 18 Riesgo ===== */}
      <Title x={486} y={829} s="Riesgo político" w={64} />
      <Sub x={486} y={838.3} s="2019, (índice donde 100 = menos riesgoso,  0 = más riesgoso)" />
      <HBars names={riesgoCountries} values={riesgoValues} y={[846, 961]} zero={516} k={2.125} h={5} lab={() => [514, "end"]} fmt={(v) => v.toFixed(1)} lz={5.6} vz={6.8} />
      <Box x={658} y={903} w={57} h={64} />
      <Para x={661} y={908} lines={riesgoText} lh={7.15} z={6.2} max={52} />
      <Note x={486} y={969.8} s="Fuente: Marsh." />
      <T x={715} y={980.5} s="Infografía: José M. Medrano" z={4.8} a="end" f="#444" />
    </svg>
  );
}
